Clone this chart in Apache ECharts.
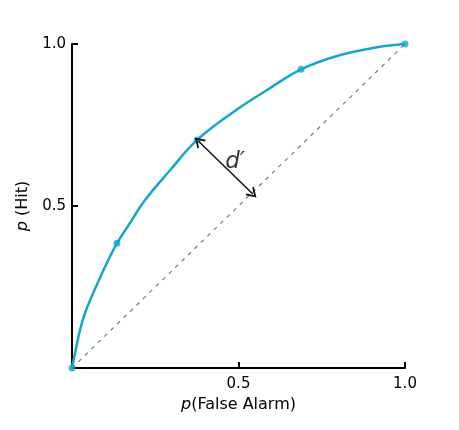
<!DOCTYPE html>
<html>
<head>
<meta charset="utf-8">
<script src="https://cdn.jsdelivr.net/npm/echarts@6/dist/echarts.min.js"></script>
<style>html,body{margin:0;padding:0;background:#fff}#c{width:459px;height:430px}</style>
</head>
<body>
<div id="c"></div>
<script>
// ROC curve: [p(False Alarm), p(Hit)]
var rocCurve = [[0,0],[0.012,0.06],[0.024,0.117],[0.039,0.169],[0.059,0.220],[0.084,0.278],[0.105,0.325],[0.135,0.385],[0.170,0.441],[0.220,0.519],[0.295,0.611],[0.376,0.704],[0.486,0.791],[0.586,0.858],[0.688,0.922],[0.806,0.966],[0.916,0.99],[1,1]];
var rocPoints = [[0,0],[0.135,0.385],[0.376,0.704],[0.688,0.922],[1,1]];
var chanceLine = [[0,0],[1,1]];
var dprimeArrow = [[0.38,0.70],[0.543,0.537]];
var dprimeLabel = [[0.49,0.636]];
var tickLabels = ['0.5','1.0'];

var chart = echarts.init(document.getElementById('c'));
var font = 'DejaVu Sans';
var chevron = 'path://M0,10 L5,0 L10,10 L8.6,10.8 L5,3.4 L1.4,10.8 Z';
function tickFmt(v){var i=tickLabels.indexOf(v.toFixed(1));return i>=0?tickLabels[i]:'';}
chart.setOption({
  animation:false,
  grid:{left:72,right:54,top:44,bottom:62},
  xAxis:{type:'value',min:0,max:1,interval:0.5,offset:3,
    name:'{i|p}(False Alarm)',nameLocation:'middle',nameGap:24,
    nameTextStyle:{fontFamily:font,fontSize:16,color:'#000',rich:{i:{fontStyle:'italic',fontFamily:font,fontSize:16,color:'#000'}}},
    axisLine:{lineStyle:{color:'#000',width:2}},
    axisTick:{inside:true,length:6,lineStyle:{color:'#000',width:2}},
    axisLabel:{fontFamily:font,fontSize:15,color:'#000',margin:6,formatter:tickFmt},
    splitLine:{show:false}},
  yAxis:{type:'value',min:0,max:1,interval:0.5,
    name:'{i|p} (Hit)',nameLocation:'middle',nameGap:40,
    nameTextStyle:{fontFamily:font,fontSize:16,color:'#000',rich:{i:{fontStyle:'italic',fontFamily:font,fontSize:16,color:'#000'}}},
    axisLine:{lineStyle:{color:'#000',width:2}},
    axisTick:{inside:true,length:6,lineStyle:{color:'#000',width:2}},
    axisLabel:{fontFamily:font,fontSize:15,color:'#000',margin:6,formatter:tickFmt},
    splitLine:{show:false}},
  series:[
    {type:'line',data:chanceLine,showSymbol:false,silent:true,
      lineStyle:{color:'#7a7a7a',width:1.2,type:[4,5]}},
    {type:'line',data:rocCurve,showSymbol:false,smooth:0.4,
      lineStyle:{color:'#17a6cb',width:2.5},
      markLine:{silent:true,symbol:[chevron,chevron],symbolSize:[12,10],
        label:{show:false},
        lineStyle:{color:'#111',width:1.5,type:'solid'},
        data:[[{coord:dprimeArrow[0]},{coord:dprimeArrow[1]}]]}},
    {type:'scatter',data:rocPoints,symbolSize:7,itemStyle:{color:'#17a6cb'}},
    {type:'scatter',data:dprimeLabel,symbolSize:0,
      label:{show:true,position:'inside',formatter:"d\u2032",fontFamily:font,fontStyle:'italic',fontSize:23,color:'#000'}}
  ]
});
</script>
</body>
</html>
